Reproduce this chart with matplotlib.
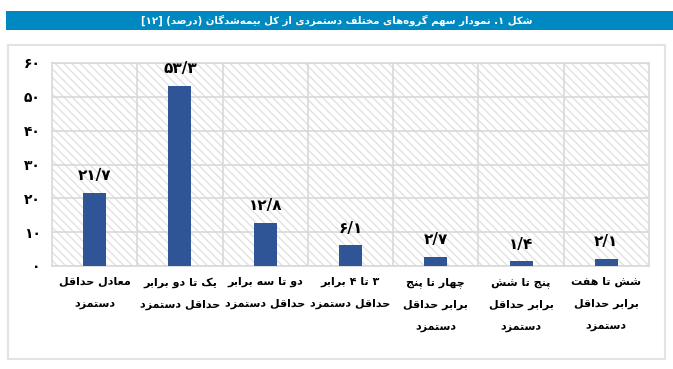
import matplotlib
matplotlib.use("Agg")
import matplotlib.pyplot as plt
from matplotlib.patches import Rectangle
import matplotlib.transforms as mtrans

# data (percent of insured people per wage group)
categories = [
    "معادل حداقل\nدستمزد",
    "یک تا دو برابر\nحداقل دستمزد",
    "دو تا سه برابر\nحداقل دستمزد",
    "۳ تا ۴ برابر\nحداقل دستمزد",
    "چهار تا پنج\nبرابر حداقل\nدستمزد",
    "پنج تا شش\nبرابر حداقل\nدستمزد",
    "شش تا هفت\nبرابر حداقل\nدستمزد",
]
values = [21.7, 53.3, 12.8, 6.1, 2.7, 1.4, 2.1]
yticks = [0, 10, 20, 30, 40, 50, 60]
title = "شکل ۱. نمودار سهم گروه‌های مختلف دستمزدی از کل بیمه‌شدگان (درصد) [۱۲]"

# --- tiny arabic/persian shaper: matplotlib does no shaping or bidi ---
# forms: (isolated, final, initial, medial); two entries = right-joining only
FORMS = {
    'ا': (0xFE8D, 0xFE8E), 'ب': (0xFE8F, 0xFE90, 0xFE91, 0xFE92),
    'پ': (0xFB56, 0xFB57, 0xFB58, 0xFB59), 'ت': (0xFE95, 0xFE96, 0xFE97, 0xFE98),
    'ج': (0xFE9D, 0xFE9E, 0xFE9F, 0xFEA0), 'چ': (0xFB7A, 0xFB7B, 0xFB7C, 0xFB7D),
    'ح': (0xFEA1, 0xFEA2, 0xFEA3, 0xFEA4), 'خ': (0xFEA5, 0xFEA6, 0xFEA7, 0xFEA8),
    'د': (0xFEA9, 0xFEAA), 'ر': (0xFEAD, 0xFEAE), 'ز': (0xFEAF, 0xFEB0),
    'س': (0xFEB1, 0xFEB2, 0xFEB3, 0xFEB4), 'ش': (0xFEB5, 0xFEB6, 0xFEB7, 0xFEB8),
    'ص': (0xFEB9, 0xFEBA, 0xFEBB, 0xFEBC), 'ع': (0xFEC9, 0xFECA, 0xFECB, 0xFECC),
    'ف': (0xFED1, 0xFED2, 0xFED3, 0xFED4), 'ق': (0xFED5, 0xFED6, 0xFED7, 0xFED8),
    'ک': (0xFB8E, 0xFB8F, 0xFB90, 0xFB91), 'گ': (0xFB92, 0xFB93, 0xFB94, 0xFB95),
    'ل': (0xFEDD, 0xFEDE, 0xFEDF, 0xFEE0), 'م': (0xFEE1, 0xFEE2, 0xFEE3, 0xFEE4),
    'ن': (0xFEE5, 0xFEE6, 0xFEE7, 0xFEE8), 'و': (0xFEED, 0xFEEE),
    'ه': (0xFEE9, 0xFEEA, 0xFEEB, 0xFEEC), 'ی': (0xFBFC, 0xFBFD, 0xFBFE, 0xFBFF),
}
DIGITS = set('0123456789۰۱۲۳۴۵۶۷۸۹')
MIRROR = {'(': ')', ')': '(', '[': ']', ']': '['}


def shape_line(s):
    out = []
    i = 0
    n = len(s)
    while i < n:
        c = s[i]
        if c not in FORMS:
            if c != '\u200c':
                out.append(c)
            i += 1
            continue
        prev = s[i - 1] if i > 0 else None
        p = prev in FORMS and len(FORMS[prev]) == 4
        if c == 'ل' and i + 1 < n and s[i + 1] == 'ا':
            out.append(chr(0xFEFC if p else 0xFEFB))
            i += 2
            continue
        nxt = s[i + 1] if i + 1 < n else None
        f = FORMS[c]
        nn = len(f) == 4 and nxt in FORMS
        if p and nn:
            out.append(chr(f[3]))
        elif p:
            out.append(chr(f[1]))
        elif nn:
            out.append(chr(f[2]))
        else:
            out.append(chr(f[0]))
        i += 1
    # visual order: reverse, keeping number runs left-to-right
    tokens = []
    j = 0
    while j < len(out):
        if out[j] in DIGITS:
            k = j
            while k < len(out) and (out[k] in DIGITS or
                                    (out[k] in './' and k + 1 < len(out) and out[k + 1] in DIGITS)):
                k += 1
            tokens.append(''.join(out[j:k]))
            j = k
        else:
            tokens.append(MIRROR.get(out[j], out[j]))
            j += 1
    return ''.join(reversed(tokens))


def fa(s):
    return '\n'.join(shape_line(line) for line in s.split('\n'))


def fa_num(v):
    s = str(v).replace('.', '/')
    return s.translate(str.maketrans('0123456789', '۰۱۲۳۴۵۶۷۸۹'))


plt.rcParams['font.family'] = ['DejaVu Sans']

W, H = 673, 369
fig = plt.figure(figsize=(W / 100, H / 100), dpi=100)
fig.patch.set_facecolor('white')

# title bar
fig.patches.append(Rectangle((6 / W, 1 - 30 / H), 667 / W, 19 / H, transform=fig.transFigure,
                             facecolor='#0088c0', edgecolor='none', zorder=0))
fig.text(337 / W, 1 - 20.5 / H, fa(title), color='white', fontsize=7.3, fontweight='bold',
         ha='center', va='center')

# light frame around the chart
fig.patches.append(Rectangle((8 / W, 1 - 359 / H), 657 / W, 314 / H, transform=fig.transFigure,
                             facecolor='none', edgecolor='#e3e3e3', linewidth=1.5, zorder=0))

ax = fig.add_axes([52 / W, 1 - 266 / H, 597 / W, 203 / H])
ax.set_facecolor('white')
ax.add_patch(Rectangle((0, 0), 1, 1, transform=ax.transAxes, facecolor='white',
                       edgecolor='#e2e2e2', linewidth=0, hatch='\\\\\\\\', zorder=0))

x = list(range(len(values)))
ax.bar(x, values, width=0.27, color='#2f5597', zorder=3)
ax.set_xlim(-0.5, len(values) - 0.5)
ax.set_ylim(0, 60)

ax.set_yticks(yticks)
ax.set_yticklabels([fa_num(t) for t in yticks], fontsize=10, fontweight='bold')
ax.tick_params(axis='y', length=0, pad=8)
ax.set_xticks([i + 0.5 for i in x[:-1]])
ax.set_xticklabels([])
ax.tick_params(axis='x', length=0)
ax.grid(True, color='#d9d9d9', linewidth=1.2, zorder=1)
ax.set_axisbelow(True)
for sp in ax.spines.values():
    sp.set_color('#d9d9d9')
    sp.set_linewidth(1.2)

for xi, v in zip(x, values):
    ax.annotate(fa_num(v), (xi, v), xytext=(0, 7), textcoords='offset points',
                ha='center', va='bottom', fontsize=11, fontweight='bold', zorder=4)

trans = mtrans.blended_transform_factory(ax.transData, fig.transFigure)
for xi, lab in zip(x, categories):
    fig.text(xi, 1 - 277 / H, fa(lab), transform=trans, ha='center', va='top',
             multialignment='center', fontsize=8, fontweight='bold', linespacing=2.45)

fig.savefig('out.png', dpi=100)
